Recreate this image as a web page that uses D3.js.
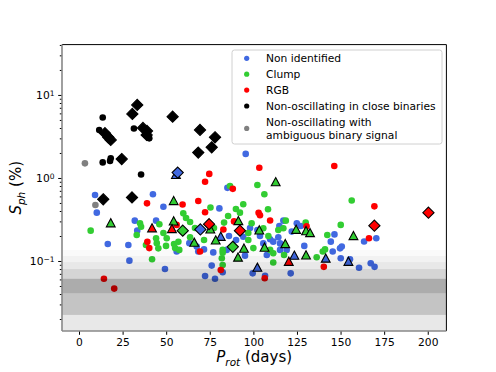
<!DOCTYPE html>
<html>
<head>
<meta charset="utf-8">
<script src="https://cdn.jsdelivr.net/npm/d3@7"></script>
<style>
  body { margin: 0; background: #fff; }
  text { font-family: "DejaVu Sans", sans-serif; }
</style>
</head>
<body>
<div id="chart"></div>
<script>
// Data: [P_rot (days), S_ph (%)]
const nonIdentified = [[95.6,1.95],[9.2,0.624],[42.4,0.638],[85.1,0.76],[10.2,0.382],[48.4,0.45],[80.5,0.43],[32,0.306],[44.2,0.306],[33.4,0.232],[16.5,0.16],[28.3,0.156],[28.9,0.101],[49.3,0.08],[56,0.13],[63.3,0.164],[68.4,0.13],[71.7,0.138],[77,0.127],[76.1,0.088],[72.3,0.066],[78,0.0612],[82.4,0.0733],[95.2,0.116],[99.6,0.071],[106.7,0.0665],[107.7,0.118],[119.1,0.136],[121.4,0.071],[129.2,0.152],[145.5,0.13],[149.7,0.142],[150.1,0.108],[155.4,0.105],[160.6,0.083],[167.3,0.094],[169.5,0.085],[163.5,0.172],[170.5,0.188],[146.5,0.209],[144.4,0.171],[117.2,0.306],[124.9,0.285],[122,0.226],[127.2,0.264],[114.9,0.264],[94.2,0.196],[105.7,0.163],[109.6,0.183],[111.4,0.171],[114.3,0.193],[115.3,0.163],[103.8,0.2],[115.3,0.136],[84.7,0.136],[102.3,0.236],[67.5,0.149],[98.1,0.25],[90.1,0.179],[86,0.2],[150.7,0.149]];
const clump = [[102.3,0.824],[86.6,0.8],[106.3,0.637],[156.4,0.536],[94.2,0.483],[75.4,0.44],[92.3,0.382],[108.4,0.42],[59.8,0.375],[83.2,0.29],[6.7,0.232],[35,0.285],[35.6,0.259],[46.1,0.277],[33.1,0.206],[48.4,0.217],[50.3,0.188],[44.2,0.188],[44.6,0.164],[45.5,0.142],[38.4,0.156],[49.9,0.152],[55.1,0.143],[57.5,0.136],[57,0.17],[41.9,0.105],[54.5,0.16],[82.4,0.126],[81.9,0.108],[82.4,0.0895],[111.4,0.124],[111.4,0.096],[117.6,0.118],[136.3,0.111],[139.8,0.13],[141.1,0.138],[142.4,0.206],[150.1,0.272],[118.6,0.306],[130,0.29],[117.2,0.248],[114.3,0.236],[105.7,0.248],[99,0.285],[108.6,0.2],[109.6,0.136],[100,0.143],[97.1,0.179],[71.7,0.179],[63.7,0.193],[82.4,0.136],[97.1,0.217],[63.7,0.295],[66.5,0.25],[61.4,0.33],[77.4,0.25],[85.5,0.349],[90,0.423]];
const rgb = [[103.4,1.33],[146.4,1.395],[74.7,1.12],[72.3,0.9],[88.2,0.74],[39,0.495],[59.4,0.48],[68.4,0.528],[169.4,0.455],[72.3,0.386],[103,0.38],[103.8,0.355],[109.6,0.308],[88.9,0.3],[56,0.272],[82.8,0.24],[130.5,0.262],[166.3,0.188],[39.2,0.17],[40.3,0.143],[69.4,0.13],[81.3,0.078],[140.4,0.085],[14.3,0.061],[20.2,0.0465],[106.5,0.062]];
const closeBinaries = [[13.6,5.36],[11.6,3.79],[31.5,3.95],[40.3,3.0],[13.6,1.54],[18.2,1.73],[17.8,1.6],[35.6,1.1]];
const ambiguous = [[3.4,1.5],[9.4,0.473]];

// big markers (black edge)
const triClump = [[112.8,0.89],[54.3,0.528],[18.2,0.285],[54.3,0.30],[75.3,0.24],[91.4,0.303],[103.4,0.234],[124.5,0.238],[130.2,0.229],[132.5,0.217],[157.4,0.2],[78.4,0.177],[66.1,0.166],[94.6,0.141],[106.4,0.145],[118.3,0.16],[91.2,0.11],[130.2,0.117]];
const triNonId = [[55.6,1.09],[81.3,0.196],[123.5,0.116],[141.5,0.107],[154.5,0.098],[102.3,0.083]];
const triRgb = [[41.9,0.248],[53.3,0.243],[120.3,0.098]];
const diaBinary = [[33.4,7.58],[30.6,5.9],[53.7,5.48],[36.7,4.0],[38.8,3.3],[39,3.68],[14.9,3.46],[16.8,3.09],[18.2,2.87],[69.4,3.79],[78,3.09],[76.1,2.34],[68.4,2.02],[24.5,1.69],[13.9,0.554],[30.4,0.582]];
const diaNonId = [[56.6,1.16],[69.6,0.24]];
const diaClump = [[59.5,0.232],[88.2,0.148]];
const diaRgb = [[74.6,0.278],[92.3,0.232],[169.4,0.266],[200.4,0.382]];

// noise level spans (S_ph lower, upper)
const noiseBands = [[0.0144,0.136],[0.0144,0.115],[0.0144,0.097],[0.0224,0.080],[0.0224,0.061],[0.041,0.061]];
const bandAlpha = [0.02,0.03,0.04,0.08,0.08,0.12];

const xTicks = [0,25,50,75,100,125,150,175,200];
const yMajor = [0.1,1,10];
const yMajorLabels = [["10","\u22121"],["10","0"],["10","1"]];

const legendItems = [
  {label: ["Non identified"], color: "#4169e1"},
  {label: ["Clump"], color: "#32cd32"},
  {label: ["RGB"], color: "#ff0000"},
  {label: ["Non-oscillating in close binaries"], color: "#000000"},
  {label: ["Non-oscillating with", "ambiguous binary signal"], color: "#808080"}
];

const W = 496, H = 372;
const plot = {left: 62, right: 446.4, top: 44.6, bottom: 331};

const svg = d3.select('#chart').append('svg')
  .attr('width', W).attr('height', H);

const x = d3.scaleLinear().domain([-9.75, 210.7]).range([plot.left, plot.right]);
const y = d3.scaleLog().domain([0.01435, 40.4]).range([plot.bottom, plot.top]);

const clipG = svg.append('defs').append('clipPath').attr('id', 'clip')
  .append('rect').attr('x', plot.left).attr('y', plot.top)
  .attr('width', plot.right - plot.left).attr('height', plot.bottom - plot.top);

const g = svg.append('g').attr('clip-path', 'url(#clip)');

function dots(data, color) {
  g.append('g').selectAll('circle')
    .data(data).join('circle')
    .attr('cx', d => x(d[0]))
    .attr('cy', d => y(d[1]))
    .attr('r', 3.3)
    .attr('fill', color);
}
dots(nonIdentified, '#4169e1');
dots(clump, '#32cd32');
dots(rgb, '#ff0000');
dots(closeBinaries, '#000000');
dots(ambiguous, '#808080');

const tri = 'M0,-4.6L4.4,3.6L-4.4,3.6Z';
const dia = 'M0,-5.6L5.6,0L0,5.6L-5.6,0Z';
function shapes(data, color, path) {
  g.append('g').selectAll('path')
    .data(data).join('path')
    .attr('d', path)
    .attr('transform', d => `translate(${x(d[0])},${y(d[1])})`)
    .attr('fill', color)
    .attr('stroke', '#000')
    .attr('stroke-width', 1.1)
    .attr('stroke-linejoin', 'miter');
}
shapes(triNonId, '#4169e1', tri);
shapes(triClump, '#32cd32', tri);
shapes(triRgb, '#ff0000', tri);
shapes(diaBinary, '#000000', dia);
shapes(diaNonId, '#4169e1', dia);
shapes(diaClump, '#32cd32', dia);
shapes(diaRgb, '#ff0000', dia);

// noise bands on top
g.append('g').selectAll('rect')
  .data(noiseBands).join('rect')
  .attr('x', plot.left)
  .attr('width', plot.right - plot.left)
  .attr('y', d => y(d[1]))
  .attr('height', d => y(d[0]) - y(d[1]))
  .attr('fill', '#000')
  .attr('fill-opacity', (d, i) => bandAlpha[i]);

// axes
const xAxis = svg.append('g')
  .attr('transform', `translate(0,${plot.bottom})`)
  .call(d3.axisBottom(x).tickValues(xTicks).tickSize(3.8).tickPadding(3.5).tickFormat(d3.format('d')));
xAxis.select('.domain').remove();
xAxis.selectAll('text').attr('font-size', 10.7).attr('fill', '#000')
  .attr('font-family', '"DejaVu Sans", sans-serif');
xAxis.selectAll('line').attr('stroke', '#000');

const minorVals = [];
[0.01, 0.1, 1, 10].forEach(b => {
  for (let k = 2; k <= 9; k++) {
    const v = b * k;
    if (v > y.domain()[0] && v < y.domain()[1]) minorVals.push(v);
  }
});
const yMinor = svg.append('g')
  .attr('transform', `translate(${plot.left},0)`)
  .call(d3.axisLeft(y).tickValues(minorVals).tickSize(2.2).tickFormat(''));
yMinor.select('.domain').remove();
yMinor.selectAll('line').attr('stroke', '#000');

const yAxis = svg.append('g')
  .attr('transform', `translate(${plot.left},0)`)
  .call(d3.axisLeft(y).tickValues(yMajor).tickSize(3.8).tickFormat(''));
yAxis.select('.domain').remove();
yAxis.selectAll('line').attr('stroke', '#000');
yAxis.selectAll('.tick').each(function(d, i) {
  const t = d3.select(this).append('text')
    .attr('x', -7.5).attr('dy', '0.36em')
    .attr('text-anchor', 'end')
    .attr('fill', '#000')
    .attr('font-size', 10.7)
    .attr('font-family', '"DejaVu Sans", sans-serif');
  t.append('tspan').text(yMajorLabels[i][0]);
  t.append('tspan').attr('dy', '-0.45em').attr('font-size', 7.5).text(yMajorLabels[i][1]);
});

// spines
svg.append('line').attr('x1', plot.left).attr('x2', plot.right).attr('y1', plot.top).attr('y2', plot.top)
  .attr('stroke', '#000').attr('stroke-width', 1);
svg.append('line').attr('x1', plot.right).attr('x2', plot.right).attr('y1', plot.top).attr('y2', plot.bottom)
  .attr('stroke', '#000').attr('stroke-width', 1);
svg.append('line').attr('x1', plot.left).attr('x2', plot.left).attr('y1', plot.top).attr('y2', plot.bottom)
  .attr('stroke', '#888').attr('stroke-width', 1.6);
svg.append('line').attr('x1', plot.left).attr('x2', plot.right).attr('y1', plot.bottom).attr('y2', plot.bottom)
  .attr('stroke', '#888').attr('stroke-width', 1.6);

// axis labels
const xl = svg.append('text')
  .attr('x', (plot.left + plot.right) / 2).attr('y', 362)
  .attr('text-anchor', 'middle').attr('font-size', 15);
xl.append('tspan').attr('font-style', 'italic').text('P');
xl.append('tspan').attr('font-style', 'italic').attr('font-size', 10.5).attr('dy', 3.5).text('rot');
xl.append('tspan').attr('dy', -3.5).text(' (days)');

const yl = svg.append('text')
  .attr('transform', `translate(21,${(plot.top + plot.bottom) / 2}) rotate(-90)`)
  .attr('text-anchor', 'middle').attr('font-size', 15);
yl.append('tspan').attr('font-style', 'italic').text('S');
yl.append('tspan').attr('font-style', 'italic').attr('font-size', 10.5).attr('dy', 3.5).text('ph');
yl.append('tspan').attr('dy', -3.5).text(' (%)');

// legend
const lg = svg.append('g');
lg.append('rect')
  .attr('x', 232).attr('y', 50).attr('width', 210).attr('height', 94)
  .attr('rx', 2.5)
  .attr('fill', '#fff').attr('fill-opacity', 0.8)
  .attr('stroke', '#d0d0d0').attr('stroke-width', 1);
let rowY = 58.3;
legendItems.forEach(item => {
  const n = item.label.length;
  const cy = rowY + (n - 1) * 6.5;
  lg.append('circle').attr('cx', 246.7).attr('cy', cy).attr('r', 2.6).attr('fill', item.color);
  item.label.forEach((s, k) => {
    lg.append('text')
      .attr('x', 266).attr('y', rowY + k * 13)
      .attr('dy', '0.36em')
      .attr('font-size', 10.7)
      .text(s);
  });
  rowY += 15.9 + (n - 1) * 13;
});
</script>
</body>
</html>
